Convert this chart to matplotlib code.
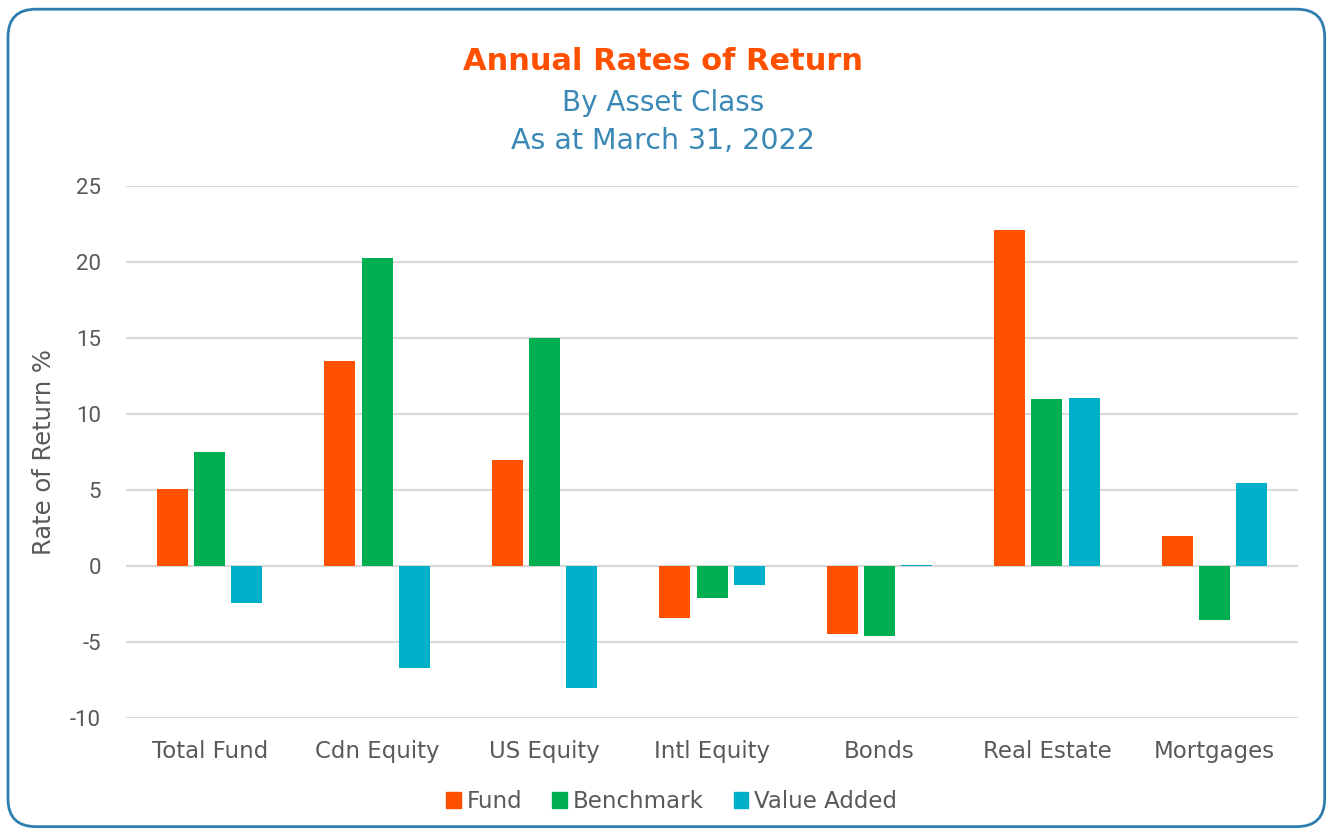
import matplotlib.pyplot as plt
import matplotlib.patches as mpatches
from matplotlib.patches import FancyBboxPatch
import numpy as np

categories = ['Total Fund', 'Cdn Equity', 'US Equity', 'Intl Equity', 'Bonds', 'Real Estate', 'Mortgages']
fund = [5.05, 13.5, 6.97, -3.42, -4.47, 22.1, 1.97]
benchmark = [7.5, 20.26, 15.0, -2.1, -4.6, 11.0, -3.55]
value_added = [-2.43, -6.7, -8.03, -1.25, 0.1, 11.05, 5.46]
yticks = [-10, -5, 0, 5, 10, 15, 20, 25]

series_names = ['Fund', 'Benchmark', 'Value Added']
colors = ['#FF5000', '#00B050', '#00B0C8']

fig = plt.figure(figsize=(13.3, 8.35), dpi=100)
ax = fig.add_axes([0.0947, 0.140, 0.8813, 0.637])

# 圆角外框
frame = FancyBboxPatch((0.006, 0.01), 0.99, 0.979, boxstyle='round,pad=0,rounding_size=0.021',
                       transform=fig.transFigure, facecolor='none', edgecolor='#2E7DAF',
                       linewidth=2, mutation_aspect=1330 / 835)
fig.patches.append(frame)

x = np.arange(len(categories))
width = 0.185
step = 0.222
for i, (vals, name, c) in enumerate(zip([fund, benchmark, value_added], series_names, colors)):
    ax.bar(x + (i - 1) * step, vals, width, color=c, label=name, zorder=3)

ax.set_xlim(-0.5, len(categories) - 0.5)
ax.set_ylim(-10, 25)
ax.set_yticks(yticks)
ax.set_yticklabels([str(v) for v in yticks], fontfamily='Roboto', fontsize=16, color='#595959')
ax.set_xticks(x)
ax.set_xticklabels(categories, fontsize=16.5, color='#595959')
ax.tick_params(axis='both', length=0)
ax.tick_params(axis='y', pad=18)
ax.tick_params(axis='x', pad=16)
ax.grid(axis='y', color='#D9D9D9', linewidth=1.5, zorder=0)
ax.axhline(0, color='#D9D9D9', linewidth=1.5, zorder=2)
for s in ax.spines.values():
    s.set_visible(False)

ax.set_ylabel('Rate of Return %', fontsize=17.5, color='#595959', labelpad=10)

fig.text(0.4985, 0.926, 'Annual Rates of Return', ha='center', va='center',
         fontsize=22, fontweight='bold', color='#FF5000')
fig.text(0.4985, 0.877, 'By Asset Class', ha='center', va='center', fontsize=20, color='#3A88B5')
fig.text(0.4985, 0.831, 'As at March 31, 2022', ha='center', va='center', fontsize=20.5, color='#3A88B5')

handles = [mpatches.Patch(color=c, label=n) for c, n in zip(colors, series_names)]
leg = fig.legend(handles=handles, loc='center', bbox_to_anchor=(0.505, 0.040), ncol=3,
                 frameon=False, fontsize=16.5, handlelength=0.65, handleheight=0.65,
                 handletextpad=0.25, columnspacing=1.3)
for t in leg.get_texts():
    t.set_color('#595959')

fig.savefig('out.png', dpi=100)
